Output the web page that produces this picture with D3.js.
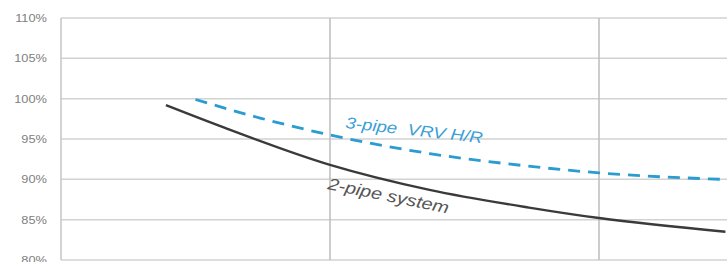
<!DOCTYPE html>
<html>
<head>
  <script src="https://d3js.org/d3.v7.min.js"></script>
  <style>
    body { margin: 0; background: #fff; }
    text { font-family: "Liberation Sans", Arial, sans-serif; }
  </style>
</head>
<body>
  <div id="chart"></div>
  <script>
    // x positions in grid units (vertical gridlines at 1, 2), y as fractions
    const twoPipeX = [0.39, 0.6, 1.0, 1.37, 1.74, 2.0, 2.47];
    const twoPipeY = [0.992, 0.965, 0.918, 0.887, 0.865, 0.852, 0.835];
    const threePipeX = [0.5, 0.74, 1.0, 1.37, 1.72, 2.0, 2.5];
    const threePipeY = [0.999, 0.976, 0.955, 0.932, 0.917, 0.908, 0.8995];
    const yTicks = [0.80, 0.85, 0.90, 0.95, 1.00, 1.05, 1.10];
    const xGrid = [1, 2, 3];

    const W = 727, H = 262;
    const svg = d3.select("#chart").append("svg").attr("width", W).attr("height", H);

    const x = d3.scaleLinear().domain([0, 3]).range([61, 868]);
    const y = d3.scaleLinear().domain([0.8, 1.1]).range([260, 18]);

    svg.append("clipPath").attr("id", "clip")
      .append("rect").attr("x", 0).attr("y", 0).attr("width", W).attr("height", H);

    const g = svg.append("g").attr("clip-path", "url(#clip)");

    // horizontal gridlines
    g.selectAll(".hgrid").data(yTicks).join("line")
      .attr("x1", x(0)).attr("x2", x(3))
      .attr("y1", d => y(d)).attr("y2", d => y(d))
      .attr("stroke", "#d2d2d2").attr("stroke-width", 1.5);

    // vertical gridlines
    g.selectAll(".vgrid").data(xGrid).join("line")
      .attr("x1", d => x(d)).attr("x2", d => x(d))
      .attr("y1", y(1.1)).attr("y2", y(0.8))
      .attr("stroke", "#bdbdbd").attr("stroke-width", 1.5);

    // left axis line
    g.append("line")
      .attr("x1", x(0)).attr("x2", x(0)).attr("y1", y(1.1)).attr("y2", y(0.8))
      .attr("stroke", "#c4c4c4").attr("stroke-width", 1.5);

    // y labels (source image is stretched horizontally a bit)
    svg.selectAll(".ylab").data(yTicks).join("text")
      .attr("transform", d => `translate(47,${y(d) + 4}) scale(1.22,1)`)
      .attr("text-anchor", "end")
      .attr("font-size", 10.5)
      .attr("fill", "#808080")
      .text(d => d3.format(".0%")(d));

    const line = d3.line().curve(d3.curveMonotoneX)
      .x(d => x(d[0])).y(d => y(d[1]));

    g.append("path")
      .datum(threePipeX.map((v, i) => [v, threePipeY[i]]))
      .attr("fill", "none").attr("stroke", "#2b9cd0")
      .attr("stroke-width", 2.8).attr("stroke-dasharray", "12,8")
      .attr("d", line);

    g.append("path")
      .datum(twoPipeX.map((v, i) => [v, twoPipeY[i]]))
      .attr("fill", "none").attr("stroke", "#3a3a3a")
      .attr("stroke-width", 2.4)
      .attr("d", line);

    svg.append("text")
      .attr("transform", "translate(345,128) rotate(6.3) scale(1.17,1)")
      .attr("font-size", 16).attr("fill", "#3a9fd5")
      .attr("font-style", "italic")
      .attr("xml:space", "preserve")
      .text("3-pipe  VRV H/R");

    svg.append("text")
      .attr("transform", "translate(327,189) rotate(11.5) scale(1.2,1)")
      .attr("font-size", 16.5).attr("fill", "#555")
      .attr("font-style", "italic")
      .text("2-pipe system");
  </script>
</body>
</html>
